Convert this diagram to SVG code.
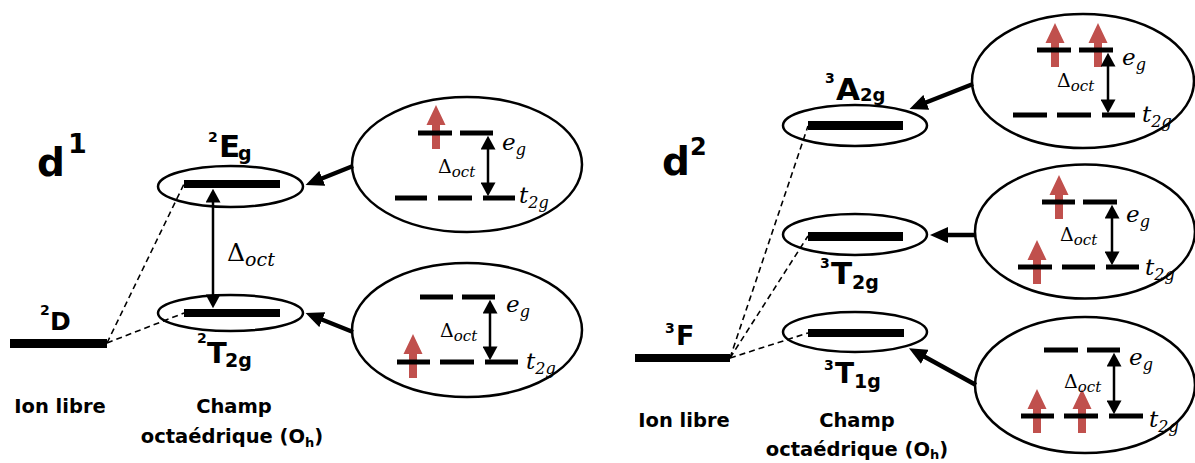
<svg xmlns="http://www.w3.org/2000/svg" width="1195" height="463" viewBox="0 0 1195 463">
<style>
.lab{font-family:"DejaVu Sans",Verdana,sans-serif;font-weight:bold;fill:#000}
.cap{font-family:"DejaVu Sans",Verdana,sans-serif;font-weight:bold;font-size:19.5px;fill:#000;text-anchor:middle}
.math{font-family:"DejaVu Serif",serif;fill:#000}
.it{font-style:italic}
.ell{fill:none;stroke:#000;stroke-width:2.5}
.bar{fill:#000}
.dash{stroke:#000;stroke-width:5}
.dl{stroke:#000;stroke-width:1.6;stroke-dasharray:6 4;fill:none}
.da{stroke:#000;stroke-width:2.5;marker-start:url(#hs);marker-end:url(#hs)}
.conn{stroke:#000;stroke-width:4.5;marker-end:url(#hc)}
.red{fill:#C0504D}
</style>
<defs>
<marker id="hs" markerUnits="userSpaceOnUse" markerWidth="15" markerHeight="15" viewBox="0 0 13 14" refX="8" refY="7" orient="auto-start-reverse"><path d="M0,0 L13,7 L0,14 z" fill="#000"/></marker>
<marker id="hc" markerUnits="userSpaceOnUse" markerWidth="18" markerHeight="16" viewBox="0 0 18 16" refX="10" refY="8" orient="auto"><path d="M0,0 L18,8 L0,16 z" fill="#000"/></marker>
<path id="up" d="M0,0 L9.5,20 L4,20 L4,44 L-4,44 L-4,20 L-9.5,20 z"/>
</defs>

<g id="connectors">
<line class="dl" x1="107" y1="343" x2="184" y2="184"/>
<line class="dl" x1="107" y1="343" x2="184" y2="313"/>
<line class="dl" x1="730" y1="358" x2="808" y2="126"/>
<line class="dl" x1="730" y1="358" x2="808" y2="236"/>
<line class="dl" x1="730" y1="358" x2="808" y2="333"/>
<line class="da" x1="213" y1="194" x2="213" y2="303"/>
<line class="conn" x1="353" y1="166" x2="313" y2="182"/>
<line class="conn" x1="353" y1="332" x2="313" y2="316"/>
<line class="conn" x1="973" y1="84" x2="917" y2="106"/>
<line class="conn" x1="976" y1="235" x2="938" y2="235"/>
<line class="conn" x1="976" y1="385" x2="916" y2="352"/>
</g>

<g id="title-d1"><text class="lab" x="37" y="176" font-size="39">d</text><text class="lab" x="68" y="153" font-size="27">1</text></g>
<g id="title-d2"><text class="lab" x="662" y="175" font-size="39">d</text><text class="lab" x="690" y="155" font-size="24">2</text></g>

<g id="free-2D">
<rect class="bar" x="10" y="339" width="97" height="9"/>
<text class="lab" x="40" y="315" font-size="14">2</text><text class="lab" x="50" y="330" font-size="25">D</text>
<text class="cap" x="60" y="413">Ion libre</text>
</g>

<g id="level-2Eg">
<ellipse class="ell" cx="230.5" cy="186.5" rx="72.5" ry="20.5"/>
<rect class="bar" x="184" y="180" width="96" height="8"/>
<text class="lab" x="208" y="142" font-size="14">2</text><text class="lab" x="219" y="157" font-size="31">E</text><text class="lab" x="238" y="160" font-size="19">g</text>
</g>

<g id="level-2T2g">
<ellipse class="ell" cx="230.5" cy="313" rx="72.5" ry="18"/>
<rect class="bar" x="184" y="309" width="96" height="8"/>
<text class="lab" x="197" y="343" font-size="14">2</text><text class="lab" x="207" y="363" font-size="29">T</text><text class="lab" x="225" y="367" font-size="19">2g</text>
</g>

<g id="delta-left"><text class="math" x="227" y="261" font-size="25">Δ<tspan class="it" font-size="19" dy="5">oct</tspan></text></g>

<g id="caption-left">
<text class="cap" x="234" y="413">Champ</text>
<text class="cap" x="232" y="443">octaédrique (O<tspan font-size="13" dy="4">h</tspan><tspan dy="-4">)</tspan></text>
</g>

<g id="config-d1-eg">
<ellipse class="ell" cx="467" cy="164.5" rx="115" ry="67.5"/>
<use href="#up" class="red" x="436" y="105"/>
<line class="dash" x1="418" y1="133" x2="452" y2="133"/><line class="dash" x1="460" y1="133" x2="493" y2="133"/>
<line class="dash" x1="395" y1="198" x2="427" y2="198"/><line class="dash" x1="438" y1="198" x2="472" y2="198"/><line class="dash" x1="483" y1="198" x2="515" y2="198"/>
<line class="da" x1="488" y1="141" x2="488" y2="191"/>
<text class="math" x="438" y="173" font-size="19">Δ<tspan class="it" font-size="15" dy="4">oct</tspan></text>
<text class="math it" x="502" y="150" font-size="23">e<tspan font-size="16" dy="5">g</tspan></text>
<text class="math it" x="519" y="203" font-size="23">t<tspan font-size="16" dy="5">2g</tspan></text>
</g>

<g id="config-d1-t2g">
<ellipse class="ell" cx="467" cy="330" rx="115" ry="67"/>
<use href="#up" class="red" x="413" y="334"/>
<line class="dash" x1="420" y1="297" x2="453" y2="297"/><line class="dash" x1="462" y1="297" x2="495" y2="297"/>
<line class="dash" x1="397" y1="362" x2="430" y2="362"/><line class="dash" x1="440" y1="362" x2="474" y2="362"/><line class="dash" x1="485" y1="362" x2="518" y2="362"/>
<line class="da" x1="490" y1="305" x2="490" y2="355"/>
<text class="math" x="440" y="337" font-size="19">Δ<tspan class="it" font-size="15" dy="4">oct</tspan></text>
<text class="math it" x="506" y="312" font-size="23">e<tspan font-size="16" dy="5">g</tspan></text>
<text class="math it" x="526" y="369" font-size="23">t<tspan font-size="16" dy="5">2g</tspan></text>
</g>

<g id="free-3F">
<rect class="bar" x="635" y="354" width="95" height="8"/>
<text class="lab" x="665" y="333" font-size="14">3</text><text class="lab" x="676" y="345" font-size="27">F</text>
<text class="cap" x="684" y="427">Ion libre</text>
</g>

<g id="level-3A2g">
<ellipse class="ell" cx="855" cy="125.5" rx="72" ry="20.5"/>
<rect class="bar" x="808" y="121" width="95" height="9"/>
<text class="lab" x="825" y="83" font-size="14">3</text><text class="lab" x="836" y="100" font-size="31">A</text><text class="lab" x="860" y="101" font-size="18">2g</text>
</g>

<g id="level-3T2g">
<ellipse class="ell" cx="855" cy="234.5" rx="72" ry="20.5"/>
<rect class="bar" x="808" y="232" width="95" height="9"/>
<text class="lab" x="820" y="268" font-size="14">3</text><text class="lab" x="831" y="284" font-size="31">T</text><text class="lab" x="852" y="289" font-size="19">2g</text>
</g>

<g id="level-3T1g">
<ellipse class="ell" cx="855" cy="332" rx="72" ry="20"/>
<rect class="bar" x="808" y="329" width="96" height="8"/>
<text class="lab" x="824" y="370" font-size="14">3</text><text class="lab" x="835" y="383" font-size="28">T</text><text class="lab" x="854" y="388" font-size="19">1g</text>
</g>

<g id="caption-right">
<text class="cap" x="857" y="427">Champ</text>
<text class="cap" x="857" y="456">octaédrique (O<tspan font-size="13" dy="3">h</tspan><tspan dy="-3">)</tspan></text>
</g>

<g id="config-d2-a2g">
<ellipse class="ell" cx="1083" cy="81" rx="111" ry="67"/>
<use href="#up" class="red" x="1055" y="23"/><use href="#up" class="red" x="1098" y="23"/>
<line class="dash" x1="1037" y1="50" x2="1071" y2="50"/><line class="dash" x1="1079" y1="50" x2="1113" y2="50"/>
<line class="dash" x1="1013" y1="115" x2="1047" y2="115"/><line class="dash" x1="1057" y1="115" x2="1091" y2="115"/><line class="dash" x1="1102" y1="115" x2="1135" y2="115"/>
<line class="da" x1="1108" y1="58" x2="1108" y2="108"/>
<text class="math" x="1057" y="87" font-size="19">Δ<tspan class="it" font-size="15" dy="4">oct</tspan></text>
<text class="math it" x="1122" y="65" font-size="23">e<tspan font-size="16" dy="5">g</tspan></text>
<text class="math it" x="1142" y="122" font-size="23">t<tspan font-size="16" dy="5">2g</tspan></text>
</g>

<g id="config-d2-t2g">
<ellipse class="ell" cx="1085" cy="231.5" rx="110" ry="67"/>
<use href="#up" class="red" x="1059" y="175"/><use href="#up" class="red" x="1037" y="240"/>
<line class="dash" x1="1042" y1="202" x2="1075" y2="202"/><line class="dash" x1="1083" y1="202" x2="1117" y2="202"/>
<line class="dash" x1="1018" y1="267" x2="1052" y2="267"/><line class="dash" x1="1062" y1="267" x2="1095" y2="267"/><line class="dash" x1="1106" y1="267" x2="1139" y2="267"/>
<line class="da" x1="1112" y1="210" x2="1112" y2="260"/>
<text class="math" x="1060" y="241" font-size="19">Δ<tspan class="it" font-size="15" dy="4">oct</tspan></text>
<text class="math it" x="1126" y="222" font-size="23">e<tspan font-size="16" dy="5">g</tspan></text>
<text class="math it" x="1145" y="275" font-size="23">t<tspan font-size="16" dy="5">2g</tspan></text>
</g>

<g id="config-d2-t1g">
<ellipse class="ell" cx="1085" cy="385" rx="110" ry="68"/>
<use href="#up" class="red" x="1037" y="389"/><use href="#up" class="red" x="1082" y="389"/>
<line class="dash" x1="1044" y1="350" x2="1078" y2="350"/><line class="dash" x1="1087" y1="350" x2="1120" y2="350"/>
<line class="dash" x1="1021" y1="416" x2="1054" y2="416"/><line class="dash" x1="1064" y1="416" x2="1098" y2="416"/><line class="dash" x1="1109" y1="416" x2="1143" y2="416"/>
<line class="da" x1="1114" y1="358" x2="1114" y2="409"/>
<text class="math" x="1064" y="388" font-size="19">Δ<tspan class="it" font-size="15" dy="4">oct</tspan></text>
<text class="math it" x="1129" y="365" font-size="23">e<tspan font-size="16" dy="5">g</tspan></text>
<text class="math it" x="1149" y="427" font-size="23">t<tspan font-size="16" dy="5">2g</tspan></text>
</g>
</svg>
